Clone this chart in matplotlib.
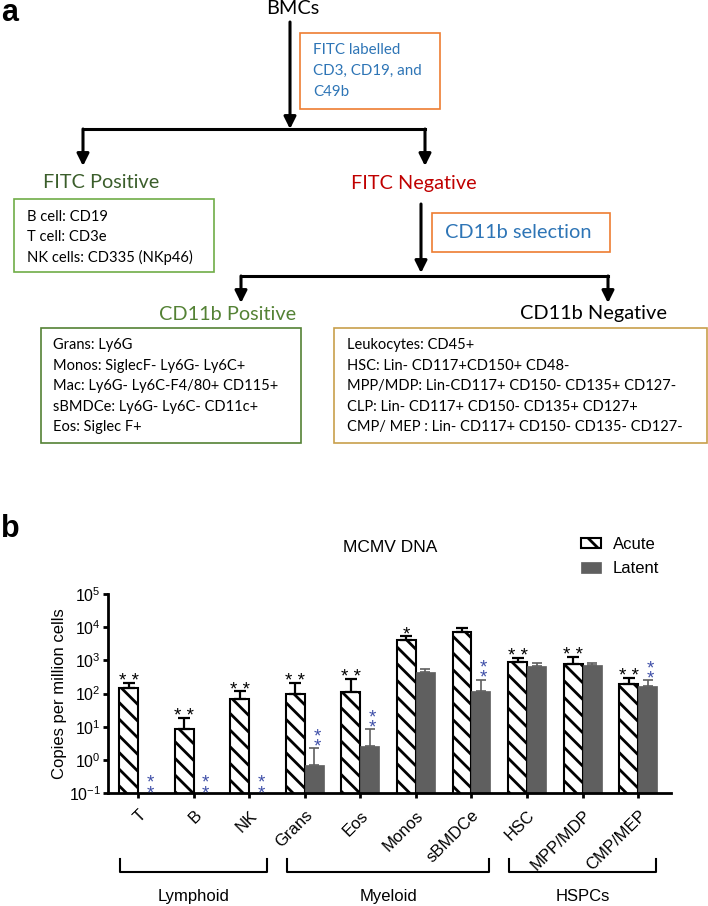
import numpy as np
import matplotlib.pyplot as plt
from matplotlib import transforms
from matplotlib.patches import Rectangle

plt.rcParams['font.family'] = ['Liberation Sans', 'DejaVu Sans']
plt.rcParams['hatch.linewidth'] = 2.0

# ---- panel b data ----
cells = ['T', 'B', 'NK', 'Grans', 'Eos', 'Monos', 'sBMDCe', 'HSC', 'MPP/MDP', 'CMP/MEP']
acute = [148, 8.5, 69, 98, 110, 4100, 7100, 890, 780, 200]
acute_top = [205, 18.6, 115, 210, 270, 5400, 9300, 1200, 1230, 300]   # upper end of error bar
latent = [np.nan, np.nan, np.nan, 0.7, 2.7, 430, 118, 690, 720, 170]
latent_top = [np.nan, np.nan, np.nan, 2.2, 8.3, 560, 260, 815, 850, 250]
acute_sig = ['* *', '* *', '* *', '* *', '* *', '*', '', '* *', '* *', '* *']
latent_sig = ['*\n*', '*\n*', '*\n*', '*\n*', '*\n*', '', '*\n*', '', '', '*\n*']
groups = ['Lymphoid', 'Myeloid', 'HSPCs']
group_first = [0, 3, 7]
group_last = [2, 6, 9]

# ---- panel a text ----
fitc_label = ['FITC labelled', 'CD3, CD19, and', 'C49b']
fitc_pos = ['B cell: CD19', 'T cell: CD3e', 'NK cells: CD335 (NKp46)']
cd11b_pos = ['Grans: Ly6G', 'Monos: SiglecF- Ly6G- Ly6C+', 'Mac: Ly6G- Ly6C-F4/80+ CD115+',
             'sBMDCe: Ly6G- Ly6C- CD11c+', 'Eos: Siglec F+']
cd11b_neg = ['Leukocytes: CD45+', 'HSC: Lin- CD117+CD150+ CD48-',
             'MPP/MDP: Lin-CD117+ CD150- CD135+ CD127-', 'CLP: Lin- CD117+ CD150- CD135+ CD127+',
             'CMP/ MEP : Lin- CD117+ CD150- CD135- CD127-']

W, H = 708, 906
fig = plt.figure(figsize=(W / 100, H / 100), dpi=100)

# flowchart drawn in pixel coordinates
ax0 = fig.add_axes([0, 0, 1, 1])
ax0.set_xlim(0, W)
ax0.set_ylim(H, 0)
ax0.axis('off')

BLUE = '#2E75B6'
ORANGE = '#ED7D31'


def arrow(x, y0, y1):
    ax0.annotate('', xy=(x, y1), xytext=(x, y0),
                 arrowprops=dict(arrowstyle='-|>', color='black', lw=2.2,
                                 mutation_scale=18, shrinkA=0, shrinkB=0))


def box(x0, y0, x1, y1, color):
    ax0.add_patch(Rectangle((x0, y0), x1 - x0, y1 - y0, fill=False, ec=color, lw=1.2))


def lines(x, ys, texts, size, color='black'):
    for y, t in zip(ys, texts):
        ax0.text(x, y, t, fontsize=size, color=color, va='center', family='Lato')


ax0.text(1, 21, 'a', fontsize=22, fontweight='bold', va='baseline')
ax0.text(1, 537, 'b', fontsize=22, fontweight='bold', va='baseline')

ax0.text(293, 9, 'BMCs', fontsize=14.3, ha='center', va='center', family='Lato')
arrow(290, 22, 129)
box(300, 33, 440, 109, ORANGE)
lines(313, [50, 71, 92], fitc_label, 10.9, BLUE)

ax0.plot([83, 425], [129, 129], color='black', lw=2.2, solid_capstyle='projecting')
arrow(83, 129, 166)
arrow(425, 129, 166)

ax0.text(101, 183, 'FITC Positive', fontsize=14.3, ha='center', va='center',
         color='#3B5E2B', family='Lato')
ax0.text(414, 183, 'FITC Negative', fontsize=14.3, ha='center', va='center',
         color='#C00000', family='Lato')
box(14, 199, 214, 272, '#70AD47')
lines(27, [217, 237, 257], fitc_pos, 10.6)

arrow(421, 204, 273)
box(432, 213, 610, 252, ORANGE)
ax0.text(445, 233, 'CD11b selection', fontsize=14.4, va='center', color=BLUE, family='Lato')

ax0.plot([241, 608], [276, 276], color='black', lw=2.2, solid_capstyle='projecting')
arrow(241, 276, 303)
arrow(608, 276, 303)

ax0.text(228, 314, 'CD11b Positive', fontsize=14.3, ha='center', va='center',
         color='#548235', family='Lato')
ax0.text(593, 314, 'CD11b Negative', fontsize=14.4, ha='center', va='center', family='Lato')

row_y = [345, 366, 386, 407, 427]
box(41, 328, 301, 443, '#548235')
lines(53, row_y, cd11b_pos, 10.5)
box(334, 328, 707, 443, '#C8A04C')
lines(347, row_y, cd11b_neg, 10.5)

# ---- panel b: bar chart ----
ax = fig.add_axes([108 / W, 1 - 793 / H, (671 - 108) / W, (793 - 594) / H])
x = np.arange(len(cells))
w = 0.34
LATENT = '#5F5F5F'

ax.bar(x - w / 2, acute, w, color='white', edgecolor='black', hatch='\\\\', lw=1.5,
       label='Acute', log=True)
ax.bar(x + w / 2, latent, w, color=LATENT, edgecolor=LATENT, lw=0.5, label='Latent')

a = np.array(acute)
ax.errorbar(x - w / 2, a, yerr=[np.zeros_like(a), np.array(acute_top) - a], fmt='none',
            ecolor='black', elinewidth=1.6, capsize=4.3, capthick=1.6, zorder=3)
l = np.array(latent)
ax.errorbar(x + w / 2, l, yerr=[np.zeros_like(l), np.array(latent_top) - l], fmt='none',
            ecolor=LATENT, elinewidth=1.2, capsize=3.6, capthick=1.2, zorder=3)

STAR_BLUE = '#3F4FA8'
for i in range(len(cells)):
    if acute_sig[i]:
        ax.annotate(acute_sig[i], (x[i] - w / 2, acute_top[i]), xytext=(0, -2.2),
                    textcoords='offset points', ha='center', va='baseline', fontsize=13.5)
    if latent_sig[i]:
        base = latent_top[i]
        off = -2.2
        if np.isnan(base):
            base = 0.1
            off = -3.6
        ax.annotate(latent_sig[i], (x[i] + w / 2 + 0.05, base), xytext=(0, off),
                    textcoords='offset points', ha='center', va='baseline',
                    fontsize=13.5, color=STAR_BLUE, linespacing=0.49)

ax.set_ylim(0.1, 1e5)
ax.set_xlim(-0.54, 9.59)
ax.set_yticks([0.1, 1, 10, 100, 1e3, 1e4, 1e5])
ax.yaxis.set_minor_locator(plt.NullLocator())
ax.set_xticks(x)
ax.set_xticklabels(cells, rotation=45, ha='right', rotation_mode='anchor', fontsize=12)
shift = transforms.ScaledTranslation(0.03, 0, fig.dpi_scale_trans)
for lab in ax.get_xticklabels():
    lab.set_transform(lab.get_transform() + shift)
ax.tick_params(axis='x', length=3.6, width=2, pad=7)
ax.tick_params(axis='y', length=3.6, width=2, pad=1.5, labelsize=11.5)
for side in ['top', 'right']:
    ax.spines[side].set_visible(False)
for side in ['left', 'bottom']:
    ax.spines[side].set_linewidth(2)

ax.set_ylabel('Copies per million cells', fontsize=12)
ax.yaxis.set_label_coords(-0.073, 0.5)

ax.legend(loc='upper left', bbox_to_anchor=(581 / W, 1 - 537 / H), bbox_transform=fig.transFigure,
          frameon=False, fontsize=12, handlelength=1.2, handleheight=0.6, handletextpad=0.7,
          labelspacing=0.55, borderpad=0, borderaxespad=0)

ax0.text(390, 547, 'MCMV DNA', fontsize=12.5, ha='center', va='center')

# group brackets under the tick labels
trans = transforms.blended_transform_factory(ax.transData, ax.transAxes)
for name, f, g in zip(groups, group_first, group_last):
    x0, x1 = f - 0.32, g + 0.32
    ax.plot([x0, x0, x1, x1], [-0.332, -0.397, -0.397, -0.332], transform=trans,
            clip_on=False, color='black', lw=1.5)
    ax.text((x0 + x1) / 2, -0.518, name, transform=trans, ha='center', va='center', fontsize=12)

fig.savefig('out.png', dpi=100)
